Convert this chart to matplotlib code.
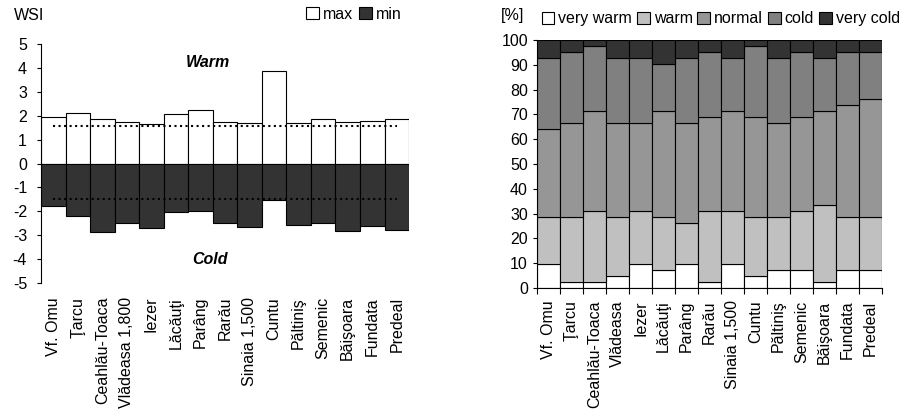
import numpy as np
import matplotlib
matplotlib.use("Agg")
import matplotlib.pyplot as plt

plt.rcParams['font.family'] = ['Liberation Sans', 'DejaVu Sans']
plt.rcParams['axes.unicode_minus'] = False

# statii
statii_wsi = ['Vf. Omu', 'Ţarcu', 'Ceahlău-Toaca', 'Vlădeasa 1,800', 'Iezer', 'Lăcăuţi',
              'Parâng', 'Rarău', 'Sinaia 1,500', 'Cuntu', 'Păltiniş', 'Semenic',
              'Băişoara', 'Fundata', 'Predeal']
statii_pct = ['Vf. Omu', 'Ţarcu', 'Ceahlău-Toaca', 'Vlădeasa', 'Iezer', 'Lăcăuţi',
              'Parâng', 'Rarău', 'Sinaia 1,500', 'Cuntu', 'Păltiniş', 'Semenic',
              'Băişoara', 'Fundata', 'Predeal']

# WSI max / min
wsi_max = [1.96, 2.11, 1.85, 1.73, 1.64, 2.06, 2.24, 1.73, 1.68, 3.87, 1.68, 1.85, 1.73, 1.79, 1.85]
wsi_min = [-1.78, -2.18, -2.88, -2.49, -2.71, -2.04, -2.0, -2.49, -2.67, -1.51, -2.56, -2.49, -2.83, -2.6, -2.77]
prag_cald = 1.56
prag_rece = -1.47

# frecvente [%]
very_warm = [9.5, 2.4, 2.4, 4.8, 9.5, 7.1, 9.5, 2.4, 9.5, 4.8, 7.1, 7.1, 2.4, 7.1, 7.1]
warm = [19.0, 26.2, 28.6, 23.8, 21.4, 21.4, 16.7, 28.6, 21.4, 23.8, 21.4, 23.8, 31.0, 21.4, 21.4]
normal = [35.7, 38.1, 40.5, 38.1, 35.7, 42.9, 40.5, 38.1, 40.5, 40.5, 38.1, 38.1, 38.1, 45.2, 47.6]
cold = [28.6, 28.6, 26.2, 26.2, 26.2, 19.0, 26.2, 26.2, 21.4, 28.6, 26.2, 26.2, 21.4, 21.4, 19.0]
very_cold = [7.1, 4.8, 2.4, 7.1, 7.1, 9.5, 7.1, 4.8, 7.1, 2.4, 7.1, 4.8, 7.1, 4.8, 4.8]

fs = 11.5
fig = plt.figure(figsize=(9.01, 4.12), dpi=100)

# ---------------- WSI ----------------
ax1 = fig.add_axes([0.0455, 0.313, 0.4085, 0.58])
x = np.arange(len(statii_wsi))
ax1.bar(x, wsi_max, width=1.0, color='white', edgecolor='black', linewidth=0.8, label='max')
ax1.bar(x, wsi_min, width=1.0, color='#333333', edgecolor='black', linewidth=0.8, label='min')
ax1.plot([x[0], x[-1]], [prag_cald, prag_cald], ':', color='black', lw=1.5)
ax1.plot([x[0], x[-1]], [prag_rece, prag_rece], ':', color='black', lw=1.5)
ax1.set_xlim(-0.5, len(x) - 0.5)
ax1.set_ylim(-5, 5)
ax1.set_yticks(range(-5, 6))
for s in ['top', 'right', 'bottom']:
    ax1.spines[s].set_visible(False)
ax1.spines['left'].set_linewidth(0.8)
ax1.set_xticks(x)
ax1.set_xticklabels(statii_wsi, rotation=90, fontsize=fs)
ax1.tick_params(axis='x', length=0, pad=10)
ax1.tick_params(axis='y', labelsize=fs, length=3, width=0.8, pad=7)
ax1.text(6.3, 4.25, 'Warm', fontsize=fs, fontweight='bold', style='italic', ha='center', va='center')
ax1.text(6.4, -4.0, 'Cold', fontsize=fs, fontweight='bold', style='italic', ha='center', va='center')
fig.text(0.015, 0.962, 'WSI', fontsize=fs, va='center')
ax1.legend(loc='center', bbox_to_anchor=(0.85, 1.125), ncol=2, frameon=False, fontsize=fs,
           handlelength=0.8, handleheight=0.8, handletextpad=0.25, columnspacing=0.4,
           borderpad=0)

# ---------------- frecvente ----------------
ax2 = fig.add_axes([0.596, 0.301, 0.383, 0.602])
serii = [very_warm, warm, normal, cold, very_cold]
nume = ['very warm', 'warm', 'normal', 'cold', 'very cold']
culori = ['white', '#c0c0c0', '#969696', '#808080', '#333333']
baza = np.zeros(len(statii_pct))
for val, n, c in zip(serii, nume, culori):
    ax2.bar(x, val, bottom=baza, width=1.0, color=c, edgecolor='black', linewidth=0.8, label=n)
    baza += np.array(val)
ax2.set_xlim(-0.5, len(x) - 0.5)
ax2.set_ylim(0, 100)
ax2.set_yticks(range(0, 101, 10))
for s in ['top', 'right']:
    ax2.spines[s].set_visible(False)
ax2.spines['left'].set_linewidth(0.8)
ax2.spines['bottom'].set_linewidth(0.8)
ax2.set_xticks(x)
ax2.set_xticklabels(statii_pct, rotation=90, fontsize=fs)
ax2.set_xticks(np.arange(-0.5, len(x)), minor=True)
ax2.tick_params(axis='x', which='major', length=0, pad=9)
ax2.tick_params(axis='x', which='minor', length=4, width=0.8)
ax2.tick_params(axis='y', labelsize=fs, length=3, width=0.8)
fig.text(0.556, 0.962, '[%]', fontsize=fs, va='center')
ax2.legend(loc='center left', bbox_to_anchor=(-0.01, 1.085), ncol=5, frameon=False, fontsize=fs,
           handlelength=0.8, handleheight=0.8, handletextpad=0.25, columnspacing=0.3,
           borderpad=0)

fig.savefig('out.png', dpi=100)
